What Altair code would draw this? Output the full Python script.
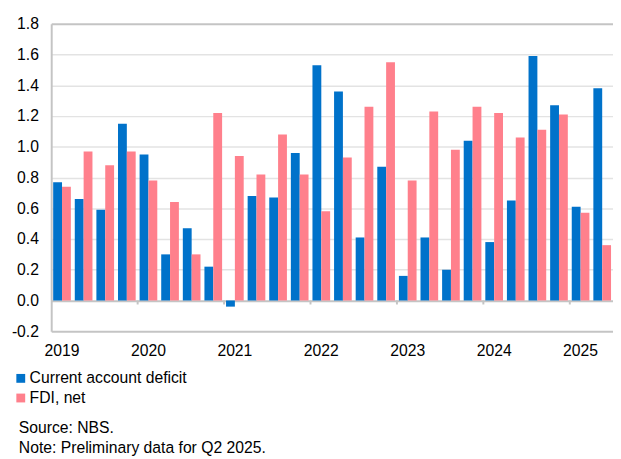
import altair as alt
import pandas as pd

FONT = "Liberation Sans"

quarters = [f"{y} Q{q}" for y in range(2019, 2026) for q in range(1, 5)][:26]
series_names = ["Current account deficit", "FDI, net"]
colors = ["#0072CA", "#FF808C"]

current_account = [0.77, 0.66, 0.59, 1.15,
                   0.95, 0.30, 0.47, 0.22,
                   -0.04, 0.68, 0.67, 0.96,
                   1.53, 1.36, 0.41, 0.87,
                   0.16, 0.41, 0.20, 1.04,
                   0.38, 0.65, 1.59, 1.27,
                   0.61, 1.38]
fdi_net = [0.74, 0.97, 0.88, 0.97,
           0.78, 0.64, 0.30, 1.22,
           0.94, 0.82, 1.08, 0.82,
           0.58, 0.93, 1.26, 1.55,
           0.78, 1.23, 0.98, 1.26,
           1.22, 1.06, 1.11, 1.21,
           0.57, 0.36]
y_ticks = [-0.2, 0.0, 0.2, 0.4, 0.6, 0.8, 1.0, 1.2, 1.4, 1.6, 1.8]
notes = ["Source: NBS.", "Note: Preliminary data for Q2 2025."]

rows = []
for q, a, f in zip(quarters, current_account, fdi_net):
    rows.append({"q": q, "series": series_names[0], "value": a})
    rows.append({"q": q, "series": series_names[1], "value": f})
df = pd.DataFrame(rows)

year_starts = pd.DataFrame({"q": [q for q in quarters if q.endswith("Q1") and not q.startswith("2019")],
                            "y0": 0.0, "y1": -0.026})

x_scale = alt.Scale(domain=quarters, paddingInner=4 / 22, paddingOuter=2 / 22)
y_scale = alt.Scale(domain=[-0.2, 1.8], nice=False, zero=False)

frame_test = "datum.value == 0 || datum.value < -0.1 || datum.value > 1.7"
x_axis = alt.Axis(labelExpr="indexof(datum.value, 'Q1') >= 0 ? slice(datum.value, 0, 4) : ''",
                  ticks=False, domain=False, grid=False, labelAngle=0, labelPadding=12,
                  labelOverlap=False, title=None)
y_axis = alt.Axis(values=y_ticks,
                  labelExpr="(datum.value < 0 ? '-' : '') + format(abs(datum.value), '.1f')",
                  grid=True,
                  gridColor={"condition": {"test": frame_test, "value": "#c4c4c4"}, "value": "#e3e3e3"},
                  gridWidth={"condition": {"test": frame_test, "value": 2}, "value": 1.5},
                  domain=True, domainColor="#c4c4c4", domainWidth=2,
                  ticks=False, labelPadding=13, labelOverlap=False, title=None)

bars = alt.Chart(df).mark_bar().encode(
    x=alt.X("q:N", scale=x_scale, axis=x_axis),
    xOffset=alt.XOffset("series:N", sort=series_names,
                        scale=alt.Scale(paddingInner=0, paddingOuter=0)),
    y=alt.Y("value:Q", scale=y_scale, axis=y_axis),
    color=alt.Color("series:N", scale=alt.Scale(domain=series_names, range=colors),
                    legend=alt.Legend(orient="none", legendX=-39, legendY=353,
                                      direction="vertical", title=None,
                                      symbolType="square", symbolSize=81,
                                      symbolStrokeWidth=0, labelLimit=400,
                                      labelOffset=1, rowPadding=4, padding=0)),
)

ticks = alt.Chart(year_starts).mark_rule(color="#c4c4c4", strokeWidth=2, xOffset=-2).encode(
    x=alt.X("q:N", scale=x_scale, bandPosition=0, axis=x_axis),
    y=alt.Y("y0:Q", scale=y_scale, axis=y_axis),
    y2="y1:Q",
)

src = alt.Chart(alt.Data(values=[{}])).mark_text(
    align="left", baseline="alphabetic", font=FONT, fontSize=16, color="#000000"
).encode(x=alt.value(-33), y=alt.value(417), text=alt.value(notes[0]))

note = alt.Chart(alt.Data(values=[{}])).mark_text(
    align="left", baseline="alphabetic", font=FONT, fontSize=16, color="#000000"
).encode(x=alt.value(-33), y=alt.value(437), text=alt.value(notes[1]))

chart = alt.layer(bars, ticks, src, note).properties(
    width=572, height=313,
    autosize=alt.AutoSizeParams(type="none"),
    padding={"left": 44, "top": 12, "right": 0, "bottom": 126},
).configure_view(stroke=None).configure_axis(
    labelFont=FONT, labelFontSize=16, labelColor="#000000"
).configure_legend(
    labelFont=FONT, labelFontSize=16, labelColor="#000000"
)

chart.save("out.html", embed_options={"renderer": "svg", "actions": False})
